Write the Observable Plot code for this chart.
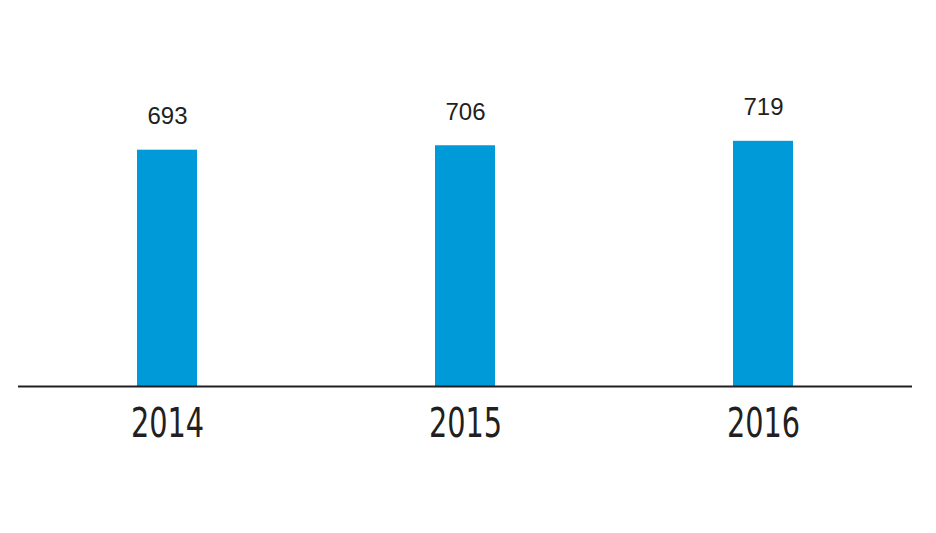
<!DOCTYPE html>
<html>
<head>
<meta charset="utf-8">
<script src="https://cdn.jsdelivr.net/npm/d3@7"></script>
<script src="https://cdn.jsdelivr.net/npm/@observablehq/plot@0.6"></script>
<style>
  html, body { margin: 0; padding: 0; background: #fff; }
</style>
</head>
<body>
<div id="chart"></div>
<script>
const years = ["2014", "2015", "2016"];
const values = [693, 706, 719];

const data = years.map((year, i) => ({year, value: values[i]}));

const chart = Plot.plot({
  width: 936,
  height: 533,
  marginLeft: 18,
  marginRight: 24,
  marginTop: 45,
  marginBottom: 147,
  style: {background: "#fff"},
  x: {domain: years, paddingInner: 0.8, paddingOuter: 0.4, label: null},
  y: {domain: [0, 1000], axis: null},
  marks: [
    Plot.barY(data, {x: "year", y: "value", fill: "#009ad8"}),
    Plot.ruleY([0], {stroke: "#231f20", strokeWidth: 2}),
    Plot.text(data, {
      x: "year", y: "value", text: d => String(d.value),
      lineAnchor: "bottom", dy: -26,
      fontSize: 24, fontFamily: "Liberation Sans, Arial, sans-serif", fill: "#231f20"
    }),
    Plot.axisX({
      tickSize: 0, tickPadding: 22, fontSize: 40,
      fontFamily: "'DejaVu Sans Condensed', 'DejaVu Sans', sans-serif",
      fill: "#231f20", label: null
    })
  ]
});
// narrow the year labels horizontally to match the condensed typeface of the reference
d3.select(chart).selectAll("g[aria-label='x-axis tick label'] text").each(function() {
  const t = this.getAttribute("transform") || "";
  this.setAttribute("transform", t + " scale(0.8,1)");
});
document.getElementById("chart").appendChild(chart);
</script>
</body>
</html>
